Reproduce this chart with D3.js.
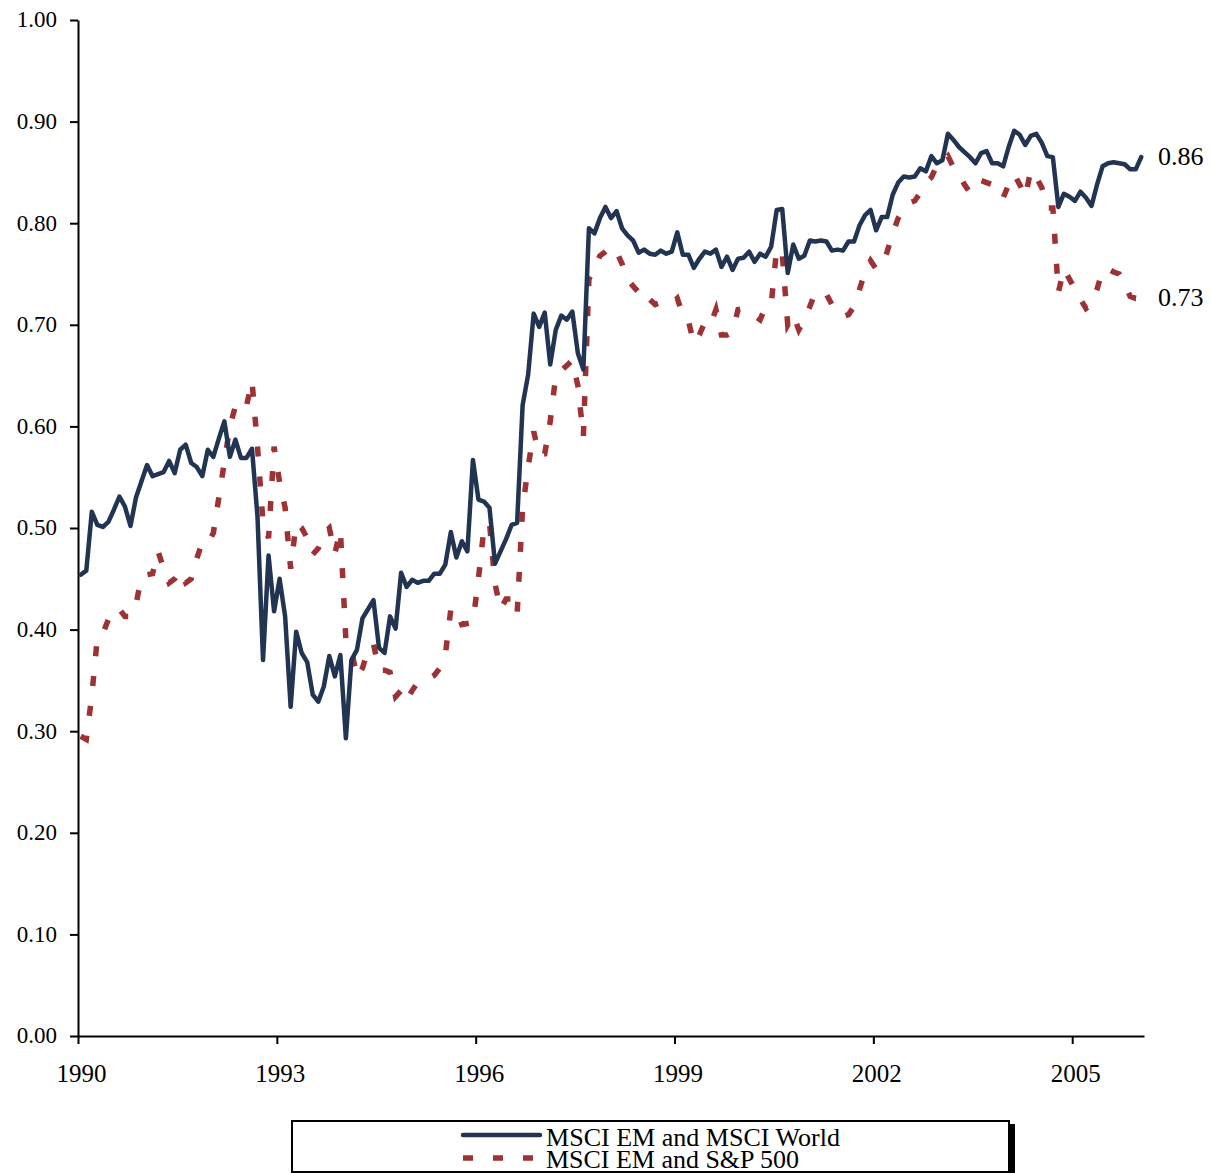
<!DOCTYPE html>
<html>
<head>
<meta charset="utf-8">
<script src="https://cdn.jsdelivr.net/npm/d3@7"></script>
<style>
  html, body { margin: 0; padding: 0; background: #fff; }
  svg { display: block; }
  text { font-family: "Liberation Serif", "Times New Roman", serif; fill: #000; }
</style>
</head>
<body>
<svg id="chart" width="1211" height="1173"></svg>
<script>
// ---- Data (monthly, Jan 1990 – Jan 2006, plotted mid-month) ----
const startYear = 1990;
const seriesNames = ["MSCI EM and MSCI World", "MSCI EM and S&P 500"];

const emWorld = [
  0.454,0.458,0.516,0.503,0.501,0.506,0.518,0.531,0.521,0.502,0.530,0.546,
  0.562,0.551,0.553,0.555,0.566,0.554,0.577,0.582,0.564,0.560,0.551,0.577,
  0.570,0.588,0.605,0.570,0.587,0.569,0.569,0.578,0.511,0.370,0.473,0.418,
  0.450,0.413,0.324,0.398,0.377,0.368,0.336,0.329,0.344,0.374,0.354,0.375,
  0.293,0.370,0.380,0.411,0.420,0.429,0.382,0.377,0.413,0.401,0.456,0.442,
  0.449,0.446,0.448,0.448,0.455,0.455,0.464,0.496,0.471,0.487,0.477,0.567,
  0.528,0.526,0.520,0.465,0.477,0.489,0.503,0.505,0.621,0.651,0.711,0.698,
  0.712,0.661,0.695,0.709,0.705,0.713,0.672,0.656,0.795,0.790,0.805,0.816,
  0.805,0.812,0.795,0.788,0.783,0.771,0.774,0.770,0.769,0.773,0.770,0.772,
  0.791,0.769,0.769,0.756,0.765,0.772,0.770,0.774,0.757,0.767,0.754,0.765,
  0.766,0.772,0.762,0.770,0.767,0.777,0.813,0.814,0.751,0.779,0.765,0.768,
  0.783,0.782,0.783,0.782,0.773,0.774,0.773,0.782,0.782,0.798,0.808,0.813,
  0.793,0.806,0.806,0.828,0.840,0.846,0.845,0.846,0.854,0.851,0.866,0.859,
  0.862,0.888,0.882,0.875,0.870,0.865,0.859,0.869,0.871,0.859,0.859,0.856,
  0.875,0.891,0.887,0.877,0.886,0.888,0.879,0.866,0.865,0.816,0.829,0.826,
  0.822,0.831,0.825,0.817,0.838,0.856,0.859,0.860,0.859,0.858,0.853,0.853,
  0.865
];

const emSP500 = [
  0.295,0.292,0.335,0.392,0.396,0.410,0.420,0.420,0.413,0.413,0.425,0.452,
  0.454,0.455,0.477,0.460,0.446,0.450,0.458,0.446,0.450,0.470,0.486,0.485,
  0.495,0.530,0.565,0.600,0.620,0.615,0.620,0.645,0.580,0.505,0.490,0.580,
  0.545,0.520,0.460,0.505,0.500,0.490,0.474,0.480,0.495,0.500,0.475,0.498,
  0.390,0.380,0.353,0.362,0.380,0.386,0.360,0.360,0.358,0.334,0.340,0.330,
  0.340,0.348,0.350,0.352,0.355,0.362,0.375,0.420,0.420,0.405,0.406,0.407,
  0.450,0.500,0.505,0.445,0.420,0.430,0.430,0.415,0.520,0.560,0.595,0.572,
  0.573,0.605,0.650,0.655,0.660,0.665,0.640,0.590,0.745,0.755,0.768,0.772,
  0.777,0.772,0.760,0.745,0.738,0.732,0.735,0.725,0.720,0.722,0.720,0.721,
  0.726,0.710,0.704,0.682,0.690,0.703,0.700,0.715,0.690,0.690,0.693,0.715,
  0.716,0.713,0.709,0.705,0.718,0.720,0.775,0.770,0.700,0.710,0.695,0.705,
  0.718,0.732,0.732,0.730,0.720,0.712,0.708,0.710,0.718,0.735,0.752,0.763,
  0.755,0.758,0.772,0.790,0.805,0.815,0.820,0.822,0.830,0.840,0.845,0.857,
  0.860,0.866,0.855,0.848,0.838,0.830,0.835,0.842,0.840,0.838,0.828,0.825,
  0.838,0.848,0.838,0.826,0.852,0.845,0.835,0.815,0.815,0.732,0.755,0.745,
  0.735,0.725,0.716,0.720,0.735,0.754,0.755,0.752,0.750,0.740,0.728,0.726,
  0.726
];

const xTickYears = [1990, 1993, 1996, 1999, 2002, 2005];
const yTickValues = [0, 0.1, 0.2, 0.3, 0.4, 0.5, 0.6, 0.7, 0.8, 0.9, 1.0];
const endLabels = ["0.86", "0.73"];

// ---- Drawing ----
const svg = d3.select("#chart");
const colors = ["#213452", "#9d3134"];

const x = d3.scaleLinear().domain([1990, 2006 + 1/12]).range([78, 1144]);
const y = d3.scaleLinear().domain([0, 1]).range([1036, 20]);

const monthX = i => x(startYear + (i + 0.5) / 12);

// Y axis
const yAxis = svg.append("g")
  .attr("transform", "translate(78,0)")
  .call(d3.axisLeft(y).tickValues(yTickValues).tickFormat(d3.format(".2f"))
        .tickSize(8).tickSizeOuter(0).tickPadding(13));
yAxis.select(".domain").attr("stroke", "#000").attr("stroke-width", 2);
yAxis.selectAll(".tick line").attr("stroke", "#000").attr("stroke-width", 2);
yAxis.selectAll(".tick text").attr("font-size", 23)
  .attr("font-family", "Liberation Serif, serif").attr("dy", "0.3em");

// X axis
const xAxis = svg.append("g")
  .attr("transform", "translate(0,1036)")
  .call(d3.axisBottom(x).tickValues(xTickYears).tickFormat(d3.format("d"))
        .tickSize(8).tickSizeOuter(0));
xAxis.select(".domain").attr("stroke", "#000").attr("stroke-width", 2);
xAxis.selectAll(".tick line").attr("stroke", "#000").attr("stroke-width", 2);
xAxis.selectAll(".tick text").attr("font-size", 25)
  .attr("font-family", "Liberation Serif, serif")
  .attr("y", 46).attr("dy", 0).attr("dx", 3);

// Lines
const line = d3.line().x((d, i) => monthX(i)).y(d => y(d));

svg.append("path").datum(emSP500)
  .attr("d", line).attr("fill", "none")
  .attr("stroke", colors[1]).attr("stroke-width", 5.5)
  .attr("stroke-dasharray", "10,20");

svg.append("path").datum(emWorld)
  .attr("d", line).attr("fill", "none")
  .attr("stroke", colors[0]).attr("stroke-width", 4.5)
  .attr("stroke-linejoin", "round").attr("stroke-linecap", "round");

// End labels
svg.append("text").attr("x", 1158).attr("y", 165).attr("font-size", 26).text(endLabels[0]);
svg.append("text").attr("x", 1158).attr("y", 306).attr("font-size", 26).text(endLabels[1]);

// Legend
const lg = svg.append("g");
lg.append("rect").attr("x", 1009).attr("y", 1124).attr("width", 6).attr("height", 60).attr("fill", "#000");
lg.append("rect").attr("x", 292).attr("y", 1121).attr("width", 717).attr("height", 51)
  .attr("fill", "#fff").attr("stroke", "#000").attr("stroke-width", 2);
lg.append("line").attr("x1", 463).attr("x2", 540).attr("y1", 1135).attr("y2", 1135)
  .attr("stroke", colors[0]).attr("stroke-width", 4.5).attr("stroke-linecap", "round");
lg.append("line").attr("x1", 463).attr("x2", 540).attr("y1", 1158).attr("y2", 1158)
  .attr("stroke", colors[1]).attr("stroke-width", 5.5).attr("stroke-dasharray", "10,20");
lg.append("text").attr("x", 546).attr("y", 1146).attr("font-size", 26)
  .attr("textLength", 294).attr("lengthAdjust", "spacingAndGlyphs").text(seriesNames[0]);
lg.append("text").attr("x", 546).attr("y", 1168).attr("font-size", 26)
  .attr("textLength", 253).attr("lengthAdjust", "spacingAndGlyphs").text(seriesNames[1]);
</script>
</body>
</html>
